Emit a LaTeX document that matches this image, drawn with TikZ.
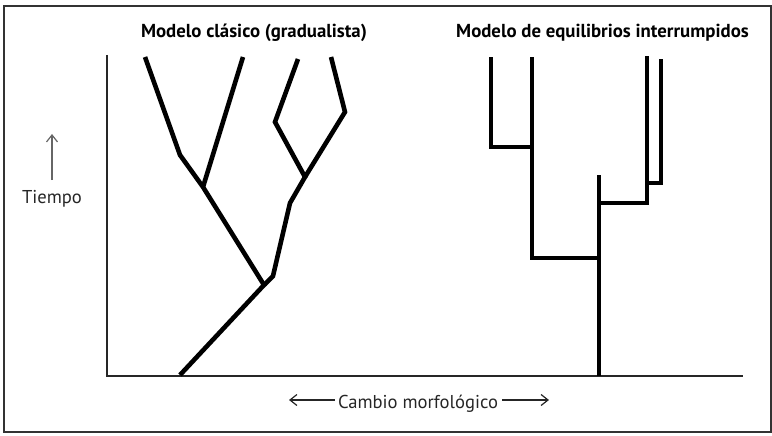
\documentclass[tikz,border=0pt]{standalone}
\usepackage{fontspec}
\setmainfont{PT Sans}
\usetikzlibrary{arrows.meta}
\begin{document}
\begin{tikzpicture}[x=1pt,y=-1pt,
  branch/.style={line width=4.6pt,line join=miter,line cap=butt,black},
  pbranch/.style={line width=4.2pt,line join=miter,line cap=butt,black},
  axis/.style={line width=2pt,black!85},
  title/.style={font=\bfseries\fontsize{18.8}{22}\selectfont,anchor=base,inner sep=0pt},
  lbl/.style={font=\fontsize{18.6}{22}\selectfont,text=black!85,anchor=base,inner sep=0pt},
  garrow/.style={line width=1.2pt,-{Straight Barb[length=7pt,width=11pt]}}]
\useasboundingbox (0,0) rectangle (772,436);
\draw[line width=1.4pt,black!80] (4,6) rectangle (771,432);
% titles
\node[title] (t1) at (254,38) {Modelo clásico (gradualista)};
\node[title] (t2) at (602.5,38) {Modelo de equilibrios interrumpidos};
% axes
\coordinate (o) at (107,376);
\coordinate (ytop) at (107,55);
\coordinate (xend) at (743,376);
\draw[axis] (ytop) -- (o) -- (xend);
% Tiempo
\node[lbl] (tiempo) at (52,203) {Tiempo};
\coordinate (ta) at (52,180);
\coordinate (tb) at (52,134);
\draw[garrow,black!60] (ta) -- (tb);
% Cambio
\node[lbl] (cambio) at (418,408) {Cambio morfológico};
\coordinate (cl) at (289,400);
\coordinate (cr) at (549,400);
\draw[garrow,black!85] (cambio.west |- cl) ++(-3,0) -- (cl);
\draw[garrow,black!85] (cambio.east |- cr) ++(4,0) -- (cr);
% gradualist tree
\coordinate (r0) at (180,375);
\coordinate (A) at (264,285);
\coordinate (B) at (203,187);
\coordinate (B1) at (180,155);
\coordinate (L1) at (145,57);
\coordinate (L2) at (243,57);
\coordinate (A1) at (273,276);
\coordinate (A2) at (290,203);
\coordinate (C) at (305,177);
\coordinate (C1) at (275,122);
\coordinate (L3) at (298,59);
\coordinate (C2) at (345,112);
\coordinate (L4) at (331,57);
\draw[branch] (r0) -- (A) -- (B) -- (B1) -- (L1);
\draw[branch] (B) -- (L2);
\draw[branch] (A) -- (A1) -- (A2) -- (C) -- (C1) -- (L3);
\draw[branch] (C) -- (C2) -- (L4);
% punctuated tree
\coordinate (p0) at (599,376);
\coordinate (pt) at (599,175);
\coordinate (q1) at (599,258);
\coordinate (q2) at (532,258);
\coordinate (q3) at (532,147);
\coordinate (q4) at (532,57);
\coordinate (q5) at (491,147);
\coordinate (q6) at (491,57);
\coordinate (s1) at (599,203);
\coordinate (s2) at (647,203);
\coordinate (s3) at (647,183);
\coordinate (s4) at (647,56);
\coordinate (s5) at (661,183);
\coordinate (s6) at (661,59);
\draw[pbranch] (p0) -- (pt);
\draw[pbranch] (q1) -- (q2) -- (q4);
\draw[pbranch] (q3) -- (q5) -- (q6);
\draw[pbranch] (s1) -- (s2) -- (s4);
\draw[pbranch] (s3) -- (s5) -- (s6);
\end{tikzpicture}
\end{document}
